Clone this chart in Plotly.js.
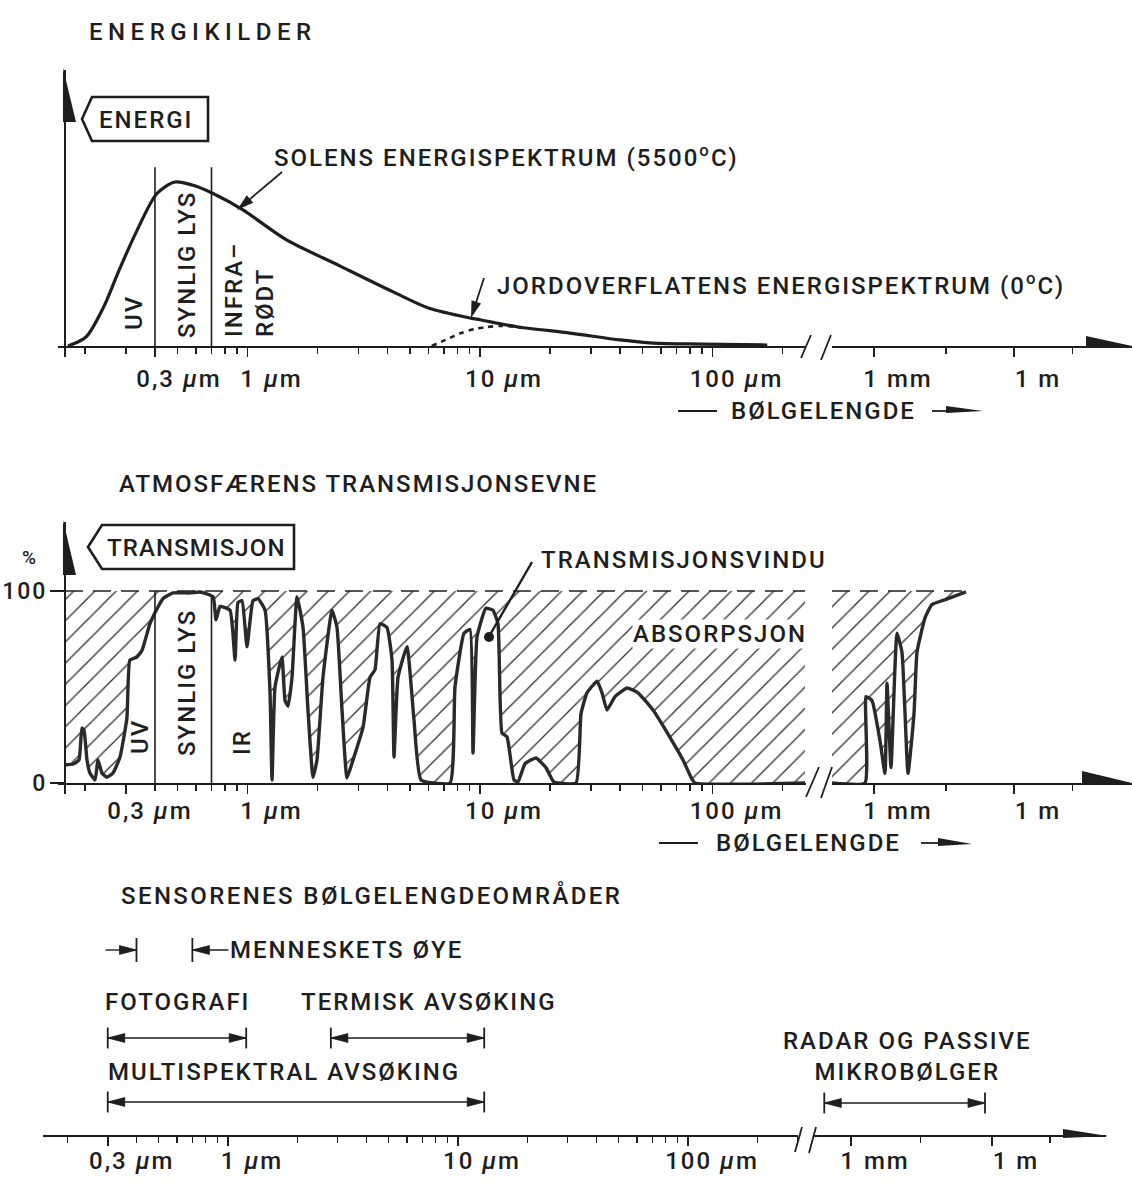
<!DOCTYPE html>
<html>
<head>
<meta charset="utf-8">
<script src="https://cdn.plot.ly/plotly-3.0.1.min.js"></script>
<style>
html,body{margin:0;padding:0;background:#fff;}
#chart{width:1132px;height:1181px;}
text{letter-spacing:2px;}
</style>
</head>
<body>
<div id="chart"></div>
<script>
// ================= DATA =================
// Solar energy spectrum (5500 C), relative energy, wavelength in micrometres
const solarWavelengthUm = [0.169,0.202,0.241,0.277,0.331,0.408,0.488,0.583,0.711,0.956,1.46,2.48,4.23,6.04,9.14,10.0,14.6,24.4,40.0,55.5,91.0,172];
const solarEnergy       = [0,5.5,24,44.5,69,93,100,98,93,83,65,49,33,23,17,16,11.6,7.9,3.7,1.8,1.2,0.6];

// Earth surface energy spectrum (0 C)
const earthWavelengthUm = [6.2,7.1,8.3,9.5,10.7,12.2,13.9,15.0];
const earthEnergy       = [0,3.7,7.9,10.4,11.6,12.2,11.8,11.2];

// Atmospheric transmission (%), optical / infrared part
const transWavelengthUm = [0.164,0.178,0.1885,0.194,0.198,0.204,0.210,0.221,0.2275,0.2366,0.2487,0.264,0.283,0.303,0.312,0.3346,0.3516,0.3807,0.412,0.433,0.478,0.566,0.625,0.711,0.732,0.762,0.841,0.884,0.91,0.947,0.995,1.056,1.11,1.19,1.25,1.275,1.313,1.407,1.45,1.494,1.554,1.633,1.733,1.82,1.913,1.99,2.112,2.309,2.426,2.55,2.679,2.844,3.14,3.365,3.535,3.715,3.98,4.183,4.267,4.44,4.853,5.2,5.575,7.43,7.805,8.535,9.06,9.33,9.71,10.6,11.37,11.95,12.43,13.07,14.0,14.57,15.61,17.41,19.22,20.8,25.88,27.19,28.86,31.86,33.47,35.17,38.08,42.88,47.82,55.48,66.97,74.67,80.8,84.07,250];
const transPercent      = [9.4,9.9,12,28.6,27.6,12,5.2,1.6,12,5.2,3,5.2,13.5,34,64,65.6,69,83,91.7,96,99,99,99.5,97,85,92,90,64,94,95,71,95,96,90,47,1.6,50,65.6,43,40,55,97,81,38,3,12,55,90,81,38,2.6,12,29,55,59,83,81,64,13.5,55,71,33,1.6,0,50,78,80,15.6,76,91,90,83,26,24,1.6,0.5,10,13,8,0.5,0,36,47,53,47,38,45,49.5,47,38,22,12,3,0,0];

// Atmospheric transmission (%), microwave part (beyond the axis break)
const transMwWavelengthUm = [126,641,674,906,1345,1721,1899,2313,3111,3981,5351,7197,8337,12380,17490,38520,93560];
const transMwPercent      = [0,0,45,43,22,5,52,8,78,68,5,36,68,86,93,96,99.5];
const fullTransmission = 100;

// Band limits (UV | visible light | IR)
const bandEdgesUm = [0.4, 0.7];
// Human eye range
const eyeRangeUm = [0.4, 0.7];

// Sensor wavelength ranges
const sensorNames  = ['FOTOGRAFI','TERMISK AVSØKING','MULTISPEKTRAL AVSØKING','RADAR OG PASSIVE MIKROBØLGER'];
const sensorFromUm = [0.3, 2.8, 0.3, 270];
const sensorToUm   = [1.2, 13, 13, 710000];

// Axis ticks
const tickValsUm    = [0.3, 1, 10, 100];
const tickValsUmTop = [0.4, 1, 10, 100];   // top panel: "0,3" label drawn at the first long tick
const tickLabels    = ['0,3 <i>µ</i>m','1 <i>µ</i>m','10 <i>µ</i>m','100 <i>µ</i>m'];
const farTickVals   = [1000, 1000000];
const farTickLabels = ['1 mm','1 m'];
const farMinorA     = [35000, 18000000];
const farMinorB     = [30000, 17000000];

// ================= DRAWING =================
const W = 1132, H = 1181;
const INK = '#1e1e1e';
const FONT = 'Roboto, "Liberation Sans", sans-serif';
const FNT = (size) => ({family:FONT, size:size||24, color:INK, weight:500});
const fx = px => px / W, fy = py => 1 - py / H;
const dom = (top, bottom) => [fy(bottom), fy(top)];

// axis segment geometry (pixel extent, reference pixel for a log value, px per decade)
const S12L = {a:58,  b:806,  ref:247.5, log:0, ppd:232.5};
const S12R = {a:832, b:1132, ref:874,   log:3, ppd:46.67};
const S3L  = {a:43,  b:798,  ref:228,   log:0, ppd:230};
const S3R  = {a:813, b:1106, ref:851,   log:3, ppd:47};
const rng = s => [s.log + (s.a - s.ref)/s.ppd, s.log + (s.b - s.ref)/s.ppd];

const minorDigits = [2,3,4,5,6,7,8,9];
const leftMinor = majors => [0.1,1,10,100].flatMap(d => minorDigits.map(k => +(k*d).toPrecision(2)))
  .filter(v => majors.indexOf(v) < 0);

function xAxis(s, anchor, vals, text, minorVals, standoff) {
  return {
    type:'log', domain:[fx(s.a), fx(s.b)], range:rng(s), anchor:anchor,
    showline:true, linecolor:INK, linewidth:2, showgrid:false, zeroline:false,
    tickmode:'array', tickvals:vals, ticktext:text,
    ticks:'outside', ticklen:9, tickwidth:1.6, tickcolor:INK,
    tickfont:FNT(24), ticklabelshift:24, ticklabelstandoff:standoff,
    minor:{tickmode:'array', tickvals:minorVals, ticks:'outside', ticklen:6, tickwidth:1.4, tickcolor:INK, showgrid:false},
    fixedrange:true
  };
}

const ENERGY_PX = 1.64, TRANS_PX = 1.92;

const layout = {
  width:W, height:H, margin:{l:0,r:0,t:0,b:0},
  paper_bgcolor:'#fff', plot_bgcolor:'rgba(0,0,0,0)', showlegend:false,
  font:FNT(24),
  xaxis:  xAxis(S12L,'y', tickValsUmTop, tickLabels, leftMinor(tickValsUmTop), 1),
  xaxis2: xAxis(S12R,'y', farTickVals, farTickLabels, farMinorA, 1),
  xaxis3: xAxis(S12L,'y2', tickValsUm, tickLabels, leftMinor(tickValsUm), -4),
  xaxis4: xAxis(S12R,'y2', farTickVals, farTickLabels, farMinorA, -4),
  xaxis5: xAxis(S3L,'y3', tickValsUm, tickLabels, leftMinor(tickValsUm), -6),
  xaxis6: xAxis(S3R,'y3', farTickVals, farTickLabels, farMinorB, -6),
  yaxis:  {domain:dom(70,346), range:[0,(346-70)/ENERGY_PX], anchor:'free', position:fx(65),
           showline:true, linecolor:INK, linewidth:2, showticklabels:false, ticks:'', showgrid:false, zeroline:false, fixedrange:true},
  yaxis2: {domain:dom(522,783), range:[0,(783-522)/TRANS_PX], anchor:'free', position:fx(65),
           showline:true, linecolor:INK, linewidth:2, showgrid:false, zeroline:false,
           tickmode:'array', tickvals:[0,100], ticktext:['0','100'], ticks:'outside', ticklen:14, tickwidth:2, tickcolor:INK,
           tickfont:FNT(23), ticklabelstandoff:-2, fixedrange:true},
  yaxis3: {domain:dom(935,1135), range:[0,10], visible:false, fixedrange:true},
  annotations:[], shapes:[]
};

const traces = [];
// ---- panel 1 ----
traces.push({type:'scatter', mode:'lines', x:solarWavelengthUm, y:solarEnergy, xaxis:'x', yaxis:'y',
  line:{color:INK, width:3.2, shape:'spline', smoothing:0.8}, hoverinfo:'skip'});
traces.push({type:'scatter', mode:'lines', x:earthWavelengthUm, y:earthEnergy, xaxis:'x', yaxis:'y',
  line:{color:INK, width:2.6, dash:'5px,5px', shape:'spline', smoothing:0.8}, hoverinfo:'skip'});
traces.push({type:'scatter', mode:'lines', xaxis:'x', yaxis:'y', hoverinfo:'skip',
  x:[bandEdgesUm[0],bandEdgesUm[0],null,bandEdgesUm[1],bandEdgesUm[1]], y:[0,109,null,0,109],
  line:{color:INK, width:1.6}});
traces.push({type:'scatter', x:[], y:[], xaxis:'x2', yaxis:'y', hoverinfo:'skip'});

// ---- panel 2 ----
const hatch = {shape:'/', size:15, solidity:0.09, fgcolor:'#333', bgcolor:'rgba(255,255,255,0)', fillmode:'replace'};
traces.push({type:'scatter', mode:'lines', x:transWavelengthUm, y:transPercent, xaxis:'x3', yaxis:'y2',
  line:{color:'#2a2a2a', width:3.4, shape:'spline', smoothing:0.4}, hoverinfo:'skip'});
traces.push({type:'scatter', mode:'lines', xaxis:'x3', yaxis:'y2', hoverinfo:'skip',
  x:[transWavelengthUm[0], transWavelengthUm[transWavelengthUm.length-1]], y:[fullTransmission, fullTransmission],
  line:{color:INK, width:1.6, dash:'18px,10px'}, fill:'tonexty', fillcolor:'rgba(0,0,0,0)', fillpattern:hatch});
traces.push({type:'scatter', mode:'lines', xaxis:'x3', yaxis:'y2', hoverinfo:'skip',
  x:[bandEdgesUm[0],bandEdgesUm[0],null,bandEdgesUm[1],bandEdgesUm[1]], y:[0,100,null,0,97],
  line:{color:INK, width:1.6}});
traces.push({type:'scatter', mode:'lines', x:transMwWavelengthUm, y:transMwPercent, xaxis:'x4', yaxis:'y2',
  line:{color:'#2a2a2a', width:3.4, shape:'spline', smoothing:0.4}, hoverinfo:'skip'});
traces.push({type:'scatter', mode:'lines', xaxis:'x4', yaxis:'y2', hoverinfo:'skip',
  x:[transMwWavelengthUm[0], 114000], y:[fullTransmission, fullTransmission],
  line:{color:INK, width:1.6, dash:'18px,10px'}, fill:'tonexty', fillcolor:'rgba(0,0,0,0)', fillpattern:hatch});

// ---- panel 3 : sensor ranges ----
const sensorRowY = [4.85, 4.85, 1.65, 1.6];
const sensorAxis = ['x5','x5','x5','x6'];
const HEAD_LEN = 17, HEAD_HW = 0.22, BAR_HW = 0.52;
const segs = {x5:{lx:[],ly:[],hx:[],hy:[],bx:[],by:[]}, x6:{lx:[],ly:[],hx:[],hy:[],bx:[],by:[]}};
const ppdOf = {x5:S3L.ppd, x6:S3R.ppd};
function head(g, tip, dir, row, ppd) {
  const back = tip * Math.pow(10, -dir*HEAD_LEN/ppd);
  g.hx.push(tip, back, back, tip, null); g.hy.push(row, row+HEAD_HW, row-HEAD_HW, row, null);
}
function bar(g, v, row, hw) { g.bx.push(v, v, null); g.by.push(row-hw, row+hw, null); }
sensorNames.forEach((n, i) => {
  const ax = sensorAxis[i], g = segs[ax], ppd = ppdOf[ax], r = sensorRowY[i];
  g.lx.push(sensorFromUm[i], sensorToUm[i], null); g.ly.push(r, r, null);
  head(g, sensorFromUm[i], -1, r, ppd); head(g, sensorToUm[i], 1, r, ppd);
  bar(g, sensorFromUm[i], r, BAR_HW); bar(g, sensorToUm[i], r, BAR_HW);
});
// human eye: arrows pointing in to the two limits
(function(){
  const g = segs.x5, ppd = S3L.ppd, r = 9.25;
  const tailL = eyeRangeUm[0]*Math.pow(10,-31/ppd), tailR = eyeRangeUm[1]*Math.pow(10,36/ppd);
  g.lx.push(tailL, eyeRangeUm[0], null, eyeRangeUm[1], tailR, null); g.ly.push(r, r, null, r, r, null);
  head(g, eyeRangeUm[0], 1, r, ppd); head(g, eyeRangeUm[1], -1, r, ppd);
  bar(g, eyeRangeUm[0], r, 0.6); bar(g, eyeRangeUm[1], r, 0.6);
})();
['x5','x6'].forEach(ax => {
  const g = segs[ax];
  traces.push({type:'scatter', mode:'lines', x:g.lx, y:g.ly, xaxis:ax, yaxis:'y3', line:{color:INK, width:1.4}, hoverinfo:'skip'});
  traces.push({type:'scatter', mode:'lines', x:g.bx, y:g.by, xaxis:ax, yaxis:'y3', line:{color:INK, width:1.8}, hoverinfo:'skip'});
  traces.push({type:'scatter', mode:'lines', x:g.hx, y:g.hy, xaxis:ax, yaxis:'y3', fill:'toself', fillcolor:INK,
    line:{color:INK, width:0.8}, hoverinfo:'skip'});
});

// ================= DECORATION (text, boxes, arrows) =================
const A = layout.annotations, SH = layout.shapes;
function txt(text, x, y, o) {
  A.push(Object.assign({xref:'paper', yref:'paper', x:fx(x), y:fy(y), text:text, showarrow:false,
    xanchor:'left', yanchor:'middle', borderpad:0, font:FNT(24)}, o||{}));
}
const spaced = (t, sp) => '<span style="letter-spacing:' + sp + 'px">' + t + '</span>';
function path(pts, o) {
  SH.push(Object.assign({type:'path', xref:'paper', yref:'paper',
    path:'M' + pts.map(p => fx(p[0]).toFixed(5) + ',' + fy(p[1]).toFixed(5)).join('L') + 'Z',
    fillcolor:INK, line:{width:0}}, o||{}));
}
function seg(x0,y0,x1,y1,w) {
  SH.push({type:'line', xref:'paper', yref:'paper', x0:fx(x0), y0:fy(y0), x1:fx(x1), y1:fy(y1), line:{color:INK, width:w||1.6}});
}
function arrowTo(x0,y0,x1,y1,len,hw,w) {
  const dx=x1-x0, dy=y1-y0, d=Math.hypot(dx,dy), ux=dx/d, uy=dy/d;
  const bx=x1-ux*len, by=y1-uy*len;
  seg(x0,y0,bx+ux*2,by+uy*2,w);
  path([[x1,y1],[bx-uy*hw,by+ux*hw],[bx+uy*hw,by-ux*hw]]);
}

// panel 1
txt(spaced('ENERGIKILDER', 5.5), 88, 32);
path([[82,119],[92,97],[208,97],[208,141],[92,141]], {fillcolor:'#fff', line:{color:INK, width:2.6}});
txt('ENERGI', 98, 120);
txt('SOLENS ENERGISPEKTRUM (5500<sup>o</sup>C)', 273, 156);
txt('JORDOVERFLATENS ENERGISPEKTRUM (0<sup>o</sup>C)', 496, 284);
txt('UV', 134, 313, {xanchor:'center', textangle:-90});
txt('SYNLIG LYS', 187, 265, {xanchor:'center', textangle:-90});
txt('INFRA–<br>RØDT', 249, 290, {xanchor:'center', textangle:-90, align:'left'});
arrowTo(282,172,237,210,17,5,1.8);
arrowTo(484,278,471,318,17,5,1.8);
path([[63,68],[63,122],[76,122]]);
seg(65,346,65,357,2);
path([[1086,336],[1132,346],[1086,348]]);
seg(801,358,811,335,1.8); seg(821,360,831,335,1.8);
seg(678,411,717,411,1.8); txt('BØLGELENGDE', 730, 411);
seg(932,411,952,411,1.8); path([[946,406],[983,411],[946,413]]);

// panel 2
txt(spaced('ATMOSFÆRENS TRANSMISJONSEVNE', 2), 118, 484);
txt('%', 30, 557, {xanchor:'center', font:FNT(19)});
path([[88,547],[102,525],[294,525],[294,569],[102,569]], {fillcolor:'#fff', line:{color:INK, width:2.6}});
txt(spaced('TRANSMISJON', 1.1), 106, 548);
txt('TRANSMISJONSVINDU', 540, 560);
txt('ABSORPSJON', 632, 634, {bgcolor:'#fff'});
seg(532,562,491,633,2.4);
SH.push({type:'circle', xref:'paper', yref:'paper', x0:fx(484), x1:fx(494), y0:fy(642), y1:fy(632), fillcolor:INK, line:{width:0}});
txt('UV', 140, 737, {xanchor:'center', textangle:-90});
txt('SYNLIG LYS', 187, 683, {xanchor:'center', textangle:-90});
txt('IR', 242, 742, {xanchor:'center', textangle:-90});
path([[63,520],[63,575],[76,575]]);
seg(65,783,65,794,2);
path([[1082,771],[1132,783],[1082,785]]);
seg(806,797,819,767,1.8); seg(821,798,832,767,1.8);
seg(659,843,698,843,1.8); txt('BØLGELENGDE', 715, 843);
seg(921,843,945,843,1.8); path([[938,838],[972,844],[938,846]]);

// panel 3
txt(spaced('SENSORENES BØLGELENGDEOMRÅDER', 2.4), 120, 895);
txt('MENNESKETS ØYE', 229, 950);
txt(sensorNames[0], 104, 1002);
txt(sensorNames[1], 300, 1002);
txt(sensorNames[2], 107, 1072);
txt('RADAR OG PASSIVE<br>MIKROBØLGER', 907, 1056, {xanchor:'center', align:'center'});
path([[1063,1129],[1108,1136],[1063,1138]]);
seg(795,1152,802,1127,1.8); seg(809,1153,816,1127,1.8);

Plotly.newPlot('chart', traces, layout, {staticPlot:true, displayModeBar:false});
</script>
</body>
</html>
